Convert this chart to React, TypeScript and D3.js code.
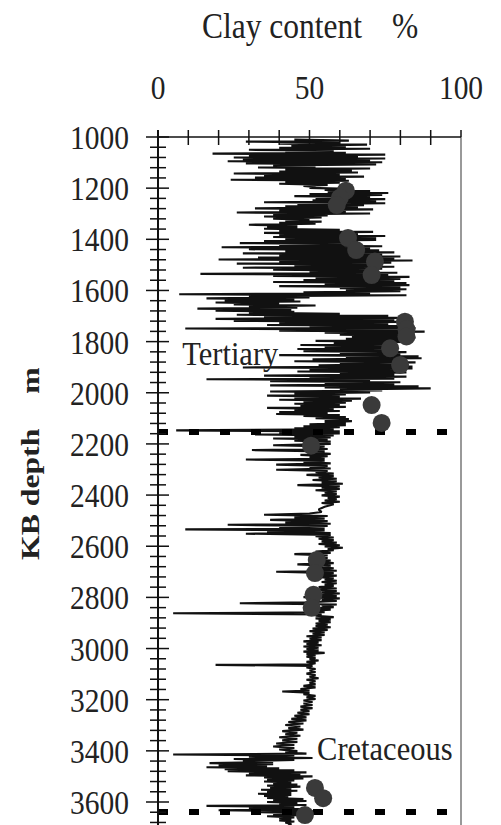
import * as d3 from "d3";

// clay log: [depth m, clay %]
const tertiaryLog: [number, number][] = [
  [1010, 45], [1014, 63], [1018, 29], [1022, 60], [1026, 40], [1030, 69], [1034, 44], [1038, 62], [1042, 40], [1046, 70],
  [1050, 30], [1054, 58], [1058, 42], [1062, 62], [1065, 18], [1069, 75], [1073, 30], [1077, 66], [1080, 25], [1084, 75],
  [1088, 28], [1092, 70], [1095, 23], [1099, 74], [1103, 29], [1107, 72], [1111, 38], [1115, 52], [1119, 33], [1123, 70],
  [1127, 42], [1131, 64], [1135, 40], [1139, 66], [1143, 25], [1147, 60], [1151, 35], [1155, 68], [1159, 32], [1163, 62],
  [1167, 24], [1171, 63], [1175, 42], [1179, 60], [1183, 40], [1187, 56], [1191, 48], [1195, 52], [1199, 50], [1203, 63],
  [1207, 55], [1211, 70], [1215, 56], [1219, 76], [1223, 50], [1227, 74], [1231, 45], [1235, 70], [1239, 52], [1243, 75],
  [1247, 51], [1251, 72], [1255, 35], [1259, 75], [1263, 46], [1267, 68], [1271, 42], [1275, 66], [1279, 32], [1283, 71],
  [1287, 40], [1291, 62], [1295, 26], [1299, 70], [1303, 38], [1307, 56], [1311, 35], [1315, 54], [1319, 38], [1323, 50],
  [1327, 42], [1331, 54], [1335, 40], [1339, 52], [1343, 30], [1347, 46], [1351, 36], [1355, 46], [1359, 35], [1363, 60],
  [1367, 40], [1371, 71], [1375, 35], [1379, 66], [1383, 40], [1387, 75], [1391, 38], [1395, 72], [1399, 42], [1403, 72],
  [1407, 35], [1411, 66], [1415, 27], [1419, 62], [1423, 40], [1427, 74], [1431, 21], [1435, 70], [1439, 30], [1443, 73],
  [1447, 42], [1451, 78], [1455, 28], [1459, 74], [1463, 40], [1467, 80], [1471, 33], [1475, 78], [1479, 20], [1483, 84],
  [1487, 40], [1491, 77], [1495, 26], [1499, 72], [1503, 45], [1507, 78], [1511, 28], [1515, 74], [1519, 38], [1523, 70],
  [1527, 50], [1531, 79], [1535, 14], [1539, 76], [1543, 38], [1547, 83], [1551, 52], [1555, 80], [1559, 48], [1563, 78],
  [1567, 38], [1571, 82], [1575, 55], [1579, 83], [1583, 40], [1587, 80], [1591, 60], [1595, 82], [1599, 62], [1603, 80],
  [1607, 48], [1611, 70], [1615, 7], [1619, 82], [1623, 30], [1627, 50], [1631, 16], [1635, 45], [1639, 22], [1643, 47],
  [1647, 19], [1651, 40], [1655, 25], [1659, 52], [1663, 30], [1667, 46], [1671, 13], [1675, 44], [1679, 19], [1683, 45],
  [1687, 30], [1691, 60], [1695, 26], [1699, 76], [1703, 35], [1707, 82], [1711, 19], [1715, 78], [1719, 25], [1723, 80],
  [1727, 40], [1731, 76], [1735, 36], [1739, 82], [1743, 50], [1747, 85], [1749, 9], [1753, 80], [1757, 40], [1761, 88],
  [1765, 55], [1769, 84], [1773, 60], [1777, 82], [1781, 64], [1785, 85], [1789, 62], [1793, 80], [1797, 52], [1801, 82],
  [1805, 58], [1809, 78], [1813, 47], [1817, 76], [1821, 55], [1825, 78], [1829, 46], [1833, 74], [1837, 48], [1841, 82],
  [1845, 60], [1849, 80], [1853, 40], [1857, 86], [1861, 62], [1865, 87], [1869, 51], [1873, 80], [1877, 45], [1881, 85],
  [1885, 60], [1889, 78], [1893, 53], [1897, 84], [1901, 28], [1905, 84], [1909, 50], [1913, 80], [1917, 46], [1921, 82],
  [1925, 60], [1929, 78], [1933, 35], [1937, 82], [1941, 50], [1945, 78], [1947, 16], [1951, 70], [1955, 37], [1959, 80],
  [1963, 55], [1967, 78], [1971, 37], [1975, 86], [1979, 55], [1983, 90], [1987, 60], [1991, 74], [1995, 37], [1999, 70],
  [2003, 45], [2007, 62], [2011, 36], [2015, 60], [2019, 45], [2023, 67], [2027, 40], [2031, 64], [2035, 48], [2039, 62],
  [2043, 45], [2047, 60], [2051, 47], [2055, 62], [2059, 36], [2063, 58], [2067, 45], [2071, 60], [2075, 40], [2079, 56],
  [2083, 39], [2087, 60], [2091, 48], [2095, 62], [2099, 52], [2103, 63], [2107, 55], [2111, 64], [2115, 55], [2119, 62],
  [2123, 50], [2127, 62], [2131, 48], [2135, 60], [2139, 45], [2143, 58], [2147, 6], [2151, 60], [2155, 40], [2159, 60],
  [2163, 32], [2167, 58], [2171, 45], [2175, 57], [2179, 38], [2183, 56], [2187, 45], [2191, 57],
];

const cretaceousLog: [number, number][] = [
  [2195, 52], [2200, 57], [2205, 38], [2210, 55], [2215, 48], [2220, 56], [2224, 31], [2229, 55], [2234, 50], [2239, 57],
  [2243, 47], [2248, 56], [2253, 50], [2258, 55], [2261, 29], [2266, 55], [2271, 48], [2276, 57], [2281, 39], [2286, 56],
  [2291, 50], [2296, 57], [2301, 39], [2306, 56], [2311, 52], [2316, 58], [2321, 49], [2326, 58], [2331, 53], [2336, 59],
  [2341, 51], [2346, 59], [2351, 54], [2356, 61], [2361, 46], [2366, 60], [2371, 54], [2376, 60], [2381, 52], [2386, 59],
  [2391, 55], [2396, 59], [2401, 54], [2406, 60], [2411, 56], [2416, 59], [2421, 55], [2426, 60], [2431, 54], [2436, 58],
  [2446, 55], [2456, 53], [2466, 54], [2472, 50], [2477, 35], [2482, 56], [2487, 45], [2492, 55], [2497, 37], [2502, 56],
  [2507, 42], [2512, 57], [2516, 23], [2521, 56], [2526, 40], [2531, 55], [2534, 9], [2538, 55], [2543, 36], [2548, 57],
  [2551, 29], [2556, 57], [2561, 52], [2566, 58], [2571, 53], [2576, 58], [2581, 54], [2586, 59], [2591, 53], [2596, 60],
  [2601, 55], [2606, 61], [2611, 56], [2616, 58], [2621, 52], [2626, 57], [2631, 45], [2636, 56], [2641, 52], [2646, 56],
  [2651, 50], [2656, 57], [2661, 52], [2666, 58], [2671, 46], [2676, 57], [2681, 53], [2686, 58], [2691, 50], [2696, 59],
  [2700, 39], [2705, 58], [2710, 53], [2715, 59], [2720, 52], [2725, 58], [2730, 55], [2735, 59], [2740, 54], [2745, 59],
  [2750, 55], [2755, 58], [2760, 53], [2765, 59], [2770, 50], [2775, 59], [2780, 54], [2785, 60], [2790, 52], [2795, 59],
  [2799, 48], [2804, 60], [2809, 54], [2814, 59], [2819, 50], [2823, 27], [2828, 59], [2833, 54], [2838, 58], [2843, 52],
  [2848, 57], [2853, 50], [2858, 55], [2862, 5], [2867, 54], [2872, 52], [2877, 58], [2882, 52], [2887, 57], [2892, 53],
  [2897, 57], [2902, 52], [2907, 56], [2912, 52], [2917, 57], [2922, 51], [2927, 56], [2932, 50], [2937, 55], [2942, 51],
  [2947, 55], [2952, 49], [2957, 54], [2962, 50], [2967, 54], [2972, 48], [2977, 53], [2982, 49], [2987, 54], [2992, 48],
  [2997, 53], [3002, 49], [3007, 53], [3012, 48], [3017, 55], [3022, 49], [3027, 52], [3032, 49], [3037, 52], [3042, 50],
  [3047, 53], [3052, 49], [3057, 52], [3062, 50], [3064, 19], [3068, 51], [3074, 49], [3080, 52], [3086, 50], [3092, 52],
  [3098, 49], [3104, 52], [3110, 50], [3116, 53], [3122, 49], [3128, 52], [3134, 50], [3140, 52], [3146, 48], [3152, 52],
  [3158, 47], [3164, 50], [3168, 41], [3173, 50], [3179, 48], [3185, 52], [3191, 49], [3197, 52], [3203, 48], [3209, 51],
  [3215, 48], [3221, 51], [3227, 47], [3233, 51], [3239, 47], [3245, 50], [3251, 46], [3257, 50], [3263, 45], [3269, 49],
  [3275, 44], [3281, 49], [3287, 43], [3293, 48], [3299, 42], [3305, 47], [3311, 43], [3317, 48], [3323, 41], [3329, 46],
  [3335, 42], [3341, 47], [3347, 40], [3353, 46], [3359, 41], [3365, 46], [3371, 39], [3377, 45], [3383, 38], [3389, 45],
  [3395, 40], [3401, 46], [3407, 42], [3411, 49], [3414, 5], [3418, 45], [3423, 30], [3428, 51], [3432, 25], [3436, 45],
  [3440, 28], [3444, 38], [3448, 17], [3452, 38], [3456, 20], [3460, 36], [3464, 16], [3468, 40], [3472, 22], [3476, 45],
  [3480, 23], [3484, 49], [3488, 30], [3492, 47], [3496, 29], [3500, 51], [3504, 35], [3508, 48], [3512, 36], [3516, 45],
  [3520, 35], [3524, 44], [3528, 38], [3532, 46], [3536, 36], [3540, 47], [3544, 37], [3548, 44], [3552, 34], [3556, 46],
  [3560, 36], [3564, 44], [3568, 33], [3572, 44], [3576, 35], [3580, 43], [3584, 36], [3588, 48], [3592, 38], [3596, 49],
  [3600, 36], [3604, 46], [3608, 40], [3612, 49], [3615, 16], [3619, 45], [3624, 30], [3628, 50], [3632, 20], [3636, 52],
  [3640, 34], [3644, 48], [3648, 38], [3652, 46], [3656, 36], [3660, 45], [3664, 40], [3668, 44], [3672, 40], [3676, 45],
  [3680, 42], [3686, 44], [3692, 43],
];

// core sample measurements: [clay %, depth m]
const samples: [number, number][] = [
  [62, 1210], [60, 1238], [59, 1266], [62.7, 1395], [65.4, 1442], [71.6, 1487], [70.5, 1540],
  [81.5, 1722], [82, 1752], [82, 1780], [76.6, 1826], [79.9, 1891], [70.5, 2048], [73.8, 2118],
  [50.5, 2207], [52.4, 2654], [51.8, 2705], [51.3, 2790], [50.7, 2841], [51.8, 3545], [54.5, 3585], [48.5, 3651],
];

const clayLabels = [0, 50, 100];
const depthLabels = [1000, 1200, 1400, 1600, 1800, 2000, 2200, 2400, 2600, 2800, 3000, 3200, 3400, 3600];
const boundaries = [2153, 3639]; // dotted formation tops
const formations = [
  { name: "Tertiary", clay: 8, depth: 1890 },
  { name: "Cretaceous", clay: 52.5, depth: 3437 },
];

const W = 501;
const H = 825;
const serif = "'Liberation Serif', 'Times New Roman', serif";

export default function App() {
  const x = d3.scaleLinear().domain([0, 100]).range([158, 461]);
  const y = d3.scaleLinear().domain([1000, 3600]).range([137, 802]);
  const bottomDepth = y.invert(H);

  const line = d3
    .line<[number, number]>()
    .x((d) => x(d[1]))
    .y((d) => y(d[0]));
  const logData = [...tertiaryLog, ...cretaceousLog];

  const minorX = d3.range(10, 100, 10);
  const minorY = d3.range(1000, bottomDepth, 40).filter((d) => (d - 1000) % 200 !== 0);

  return (
    <svg
      width={W}
      height={H}
      style={{ position: "absolute", left: 0, top: 0, background: "#fff" }}
      fontFamily={serif}
    >
      {/* title */}
      <g transform="translate(202,38) scale(1,1.12)">
        <text fontSize={31.5} fill="#222">Clay content</text>
      </g>
      <g transform="translate(392,38) scale(1,1.12)">
        <text fontSize={31.5} fill="#222">%</text>
      </g>

      {/* top axis labels */}
      {clayLabels.map((c) => (
        <g key={c} transform={`translate(${x(c)},99) scale(1,1.12)`}>
          <text fontSize={29.5} textAnchor="middle" fill="#222">{c}</text>
        </g>
      ))}

      {/* left axis labels */}
      {depthLabels.map((d) => (
        <g key={d} transform={`translate(129,${y(d) + 12}) scale(1,1.12)`}>
          <text fontSize={29.5} textAnchor="end" fill="#222">{d}</text>
        </g>
      ))}

      {/* y title */}
      <g transform="translate(39,560) scale(1,1.22) rotate(-90)">
        <text fontSize={26} fontWeight="bold" fill="#222">KB depth</text>
        <text x={158} fontSize={26} fontWeight="bold" fill="#222" textAnchor="end">m</text>
      </g>

      {/* right frame */}
      <line x1={x(100)} x2={x(100)} y1={y(1000)} y2={H} stroke="#999" strokeWidth={2} />

      {/* log trace */}
      <path d={line(logData) ?? ""} fill="none" stroke="#111" strokeWidth={2.1} strokeLinejoin="bevel" />

      {/* formation boundaries */}
      {boundaries.map((b) => (
        <line
          key={b}
          x1={x(0)}
          x2={x(96)}
          y1={y(b)}
          y2={y(b)}
          stroke="#000"
          strokeWidth={6}
          strokeDasharray="10 21"
        />
      ))}

      {/* samples */}
      {samples.map((s, i) => (
        <circle key={i} cx={x(s[0])} cy={y(s[1])} r={9} fill="#3a3a3a" />
      ))}

      {/* top axis */}
      <line x1={x(0)} x2={x(100)} y1={137} y2={137} stroke="#111" strokeWidth={1.5} />
      {minorX.map((c) => (
        <line key={c} x1={x(c)} x2={x(c)} y1={130} y2={145} stroke="#111" strokeWidth={1.5} />
      ))}
      <line x1={x(100)} x2={x(100)} y1={130} y2={137} stroke="#111" strokeWidth={1.5} />

      {/* left axis */}
      <line x1={x(0)} x2={x(0)} y1={130} y2={H} stroke="#111" strokeWidth={2} />
      {depthLabels.map((d) => (
        <line key={d} x1={146} x2={169} y1={y(d)} y2={y(d)} stroke="#111" strokeWidth={1.5} />
      ))}
      {minorY.map((d) => (
        <line key={d} x1={150} x2={166} y1={y(d)} y2={y(d)} stroke="#111" strokeWidth={1.5} />
      ))}

      {/* formation names */}
      {formations.map((f) => (
        <g key={f.name} transform={`translate(${x(f.clay)},${y(f.depth)}) scale(1,1.12)`}>
          <text fontSize={30.5} fill="#222">{f.name}</text>
        </g>
      ))}
    </svg>
  );
}
